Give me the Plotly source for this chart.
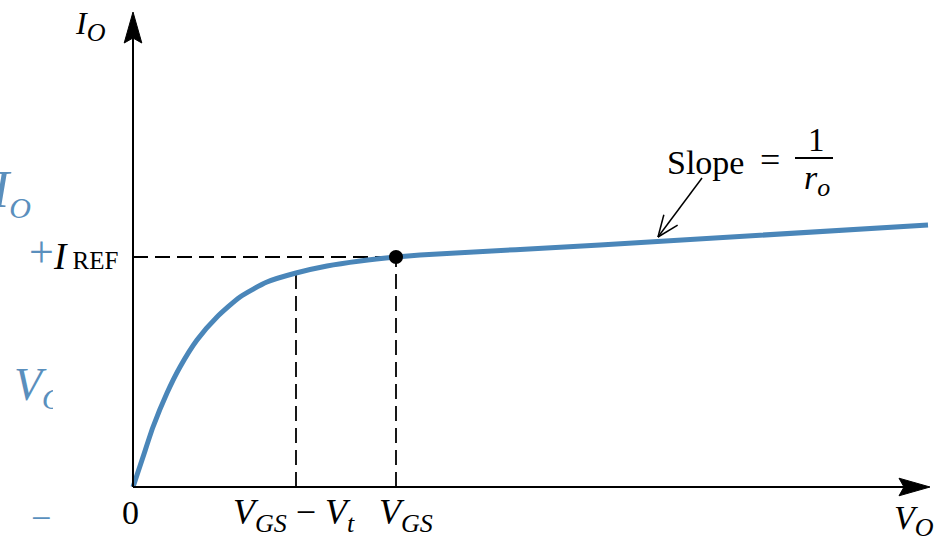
import numpy as np
import plotly.graph_objects as go

# ---- data (arbitrary units) ----
vo = [0, 0.10, 0.20, 0.34, 0.47, 0.64, 0.84, 1.07, 1.34, 1.63, 1.94, 2.27, 2.63, 2.87, 4.67, 7.95]
io = [0, 0.30, 0.60, 0.94, 1.20, 1.47, 1.70, 1.90, 2.05, 2.14, 2.21, 2.26, 2.30, 2.32, 2.42, 2.62]
V_GS = 2.63
V_GS_minus_Vt = 1.63
I_REF = 2.30
I_at_VGSmVt = 2.14
X_END = 7.97
Y_END = 4.75
slope_tip = (5.25, 2.50)
slope_tail = (5.69, 3.09)

BLUE = "#4a86b9"
TXTBLUE = "#5a8fbd"
FONT = "Liberation Serif, Times New Roman, serif"

fig = go.Figure()

# blue partial text on left (cropped)
fig.add_trace(go.Scatter(x=[-1.19], y=[0.99], mode="text",
                         text=["<i>V</i><sub><span style='font-size:30px'><i>O</i></span></sub>"],
                         textposition="middle right",
                         textfont=dict(family=FONT, size=46, color=TXTBLUE),
                         hoverinfo="skip", showlegend=False, cliponaxis=False))

fig.add_trace(go.Scatter(x=vo, y=io, mode="lines", line=dict(color=BLUE, width=5, shape="spline", smoothing=0.6),
                         hoverinfo="skip", showlegend=False))
fig.add_trace(go.Scatter(x=[V_GS], y=[I_REF], mode="markers", marker=dict(color="black", size=14),
                         hoverinfo="skip", showlegend=False))

shapes = []
# white crop box over V_O
shapes.append(dict(type="rect", xref="x", yref="y", x0=-0.80, x1=-0.25, y0=0.55, y1=1.45,
                   fillcolor="white", line=dict(width=0), layer="above"))
# axes
shapes.append(dict(type="line", xref="x", yref="y", x0=0, y0=0, x1=X_END - 0.25, y1=0, line=dict(color="black", width=2)))
shapes.append(dict(type="line", xref="x", yref="y", x0=0, y0=0, x1=0, y1=Y_END - 0.25, line=dict(color="black", width=2)))
# arrowheads of axes
hl, hw, notch = 0.31, 0.088, 0.05
shapes.append(dict(type="path", xref="x", yref="y",
                   path=f"M {X_END},0 L {X_END-hl},{hw} L {X_END-hl+notch},0 L {X_END-hl},{-hw} Z",
                   fillcolor="black", line=dict(color="black", width=1)))
shapes.append(dict(type="path", xref="x", yref="y",
                   path=f"M 0,{Y_END} L {hw},{Y_END-hl} L 0,{Y_END-hl+notch} L {-hw},{Y_END-hl} Z",
                   fillcolor="black", line=dict(color="black", width=1)))
# dashed lines
dash = dict(color="black", width=1.8, dash="15px,7px")
shapes.append(dict(type="line", xref="x", yref="y", x0=0, y0=I_REF, x1=V_GS, y1=I_REF, line=dash, layer="below"))
shapes.append(dict(type="line", xref="x", yref="y", x0=V_GS_minus_Vt, y0=0, x1=V_GS_minus_Vt, y1=I_at_VGSmVt, line=dash, layer="below"))
shapes.append(dict(type="line", xref="x", yref="y", x0=V_GS, y0=0, x1=V_GS, y1=I_REF, line=dash, layer="below"))
# slope pointer
tx, ty = slope_tip
sx, sy = slope_tail
shapes.append(dict(type="line", xref="x", yref="y", x0=sx, y0=sy, x1=tx, y1=ty, line=dict(color="black", width=1.5)))
d = np.array([sx - tx, sy - ty]); d = d / np.linalg.norm(d)
for ang in (np.radians(22), -np.radians(22)):
    r = np.array([[np.cos(ang), -np.sin(ang)], [np.sin(ang), np.cos(ang)]]) @ d * 0.23
    shapes.append(dict(type="line", xref="x", yref="y", x0=tx, y0=ty, x1=float(tx + r[0]), y1=float(ty + r[1]),
                       line=dict(color="black", width=1.5)))
# fraction bar
shapes.append(dict(type="line", xref="x", yref="y", x0=6.62, x1=7.00, y0=3.29, y1=3.29,
                   line=dict(color="black", width=2)))

def ann(x, y, text, size=32, color="black", xanchor="center", yanchor="middle", xshift=0):
    return dict(x=x, y=y, xref="x", yref="y", text=text, showarrow=False, xanchor=xanchor, yanchor=yanchor,
                xshift=xshift, font=dict(family=FONT, size=size, color=color))

sub = lambda s, px: f"<sub><span style='font-size:{px}px'>{s}</span></sub>"

annotations = [
    ann(-0.25, 4.61, "<i>I</i>" + sub("<i>O</i>", 26), size=32, xanchor="right"),
    ann(-0.03, -0.25, "0", size=34),
    ann(V_GS_minus_Vt, -0.28, "<i>V</i>" + sub("<i>GS</i>", 26) + " − <i>V</i>" + sub("<i>t</i>", 26), size=36, xshift=-2),
    ann(V_GS, -0.28, "<i>V</i>" + sub("<i>GS</i>", 26), size=36, xshift=10),
    ann(7.81, -0.33, "<i>V</i>" + sub("<i>O</i>", 26), size=34),
    ann(-0.13, 2.31, "<i>I</i><span style='font-size:25px'> REF</span>", size=37, xanchor="right"),
    ann(-0.92, 2.35, "+", size=44, color=TXTBLUE),
    ann(-1.00, 2.95, "<i>I</i>" + sub("<i>O</i>", 30), size=52, color=TXTBLUE, xanchor="right"),
    ann(-0.92, -0.31, "−", size=36, color=TXTBLUE),
    ann(5.32, 3.25, "Slope", size=34, xanchor="left"),
    ann(6.37, 3.27, "=", size=36),
    ann(6.83, 3.47, "1", size=33),
    ann(6.84, 3.07, "<i>r</i>" + sub("<i>o</i>", 26), size=34),
]

fig.update_layout(
    width=945, height=543, margin=dict(l=0, r=0, t=0, b=0, autoexpand=False),
    paper_bgcolor="white", plot_bgcolor="white",
    xaxis=dict(range=[-1.33, 8.12], visible=False, fixedrange=True),
    yaxis=dict(range=[-0.56, 4.87], visible=False, fixedrange=True),
    shapes=shapes, annotations=annotations, showlegend=False,
)

fig.write_html("out.html", config={"displayModeBar": False},
               post_script="document.body.style.margin='0';")
